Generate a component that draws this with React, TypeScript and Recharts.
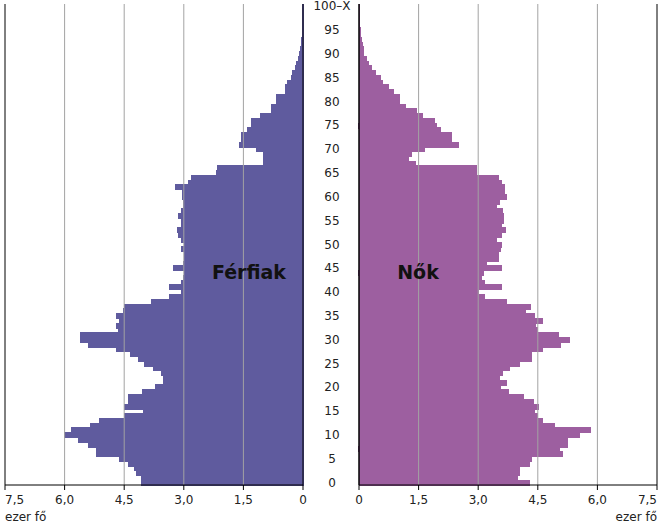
import React from "react";
import { BarChart, Bar, XAxis, YAxis, ReferenceLine } from "recharts";

// korévek (0 ... 99, 100 és felette)
const ageLabels = [...Array.from({ length: 100 }, (_, i) => String(i)), "100–X"];

// férfiak, ezer fő, 0 évestől felfelé
const male = [
  4.06, 4.06, 4.19, 4.23, 4.40, 4.61, 5.19, 5.19, 5.41, 5.66,
  5.99, 5.82, 5.36, 5.11, 4.48, 4.02, 4.50, 4.40, 4.40, 4.03,
  3.72, 3.51, 3.51, 3.56, 3.77, 3.98, 4.15, 4.35, 4.69, 5.40,
  5.61, 5.61, 4.65, 4.69, 4.61, 4.69, 4.51, 4.48, 3.81, 3.35,
  3.05, 3.35, 3.05, 3.02, 2.98, 3.27, 3.02, 2.98, 2.98, 3.05,
  2.98, 3.05, 3.13, 3.16, 3.05, 3.05, 3.13, 3.05, 3.02, 3.02,
  3.03, 3.03, 3.22, 2.89, 2.80, 2.17, 2.14, 1.00, 1.00, 1.00,
  1.17, 1.61, 1.55, 1.55, 1.39, 1.30, 1.30, 1.06, 0.79, 0.79,
  0.66, 0.66, 0.45, 0.43, 0.40, 0.28, 0.26, 0.20, 0.16, 0.12,
  0.09, 0.06, 0.04, 0.03, 0.02, 0.015, 0.01, 0.007, 0.005, 0.003,
  0.005,
];

// nők, ezer fő
const female = [
  4.29, 3.98, 4.05, 4.05, 4.29, 4.35, 5.13, 5.04, 5.26, 5.26,
  5.56, 5.83, 4.93, 4.62, 4.49, 4.41, 4.52, 4.39, 4.13, 3.77,
  3.55, 3.72, 3.53, 3.60, 3.80, 4.05, 4.35, 4.35, 4.63, 5.06,
  5.29, 5.01, 4.49, 4.43, 4.63, 4.41, 4.20, 4.32, 3.72, 3.17,
  3.00, 3.59, 3.17, 3.09, 3.13, 3.59, 3.21, 3.50, 3.50, 3.55,
  3.59, 3.46, 3.59, 3.69, 3.59, 3.64, 3.64, 3.62, 3.46, 3.53,
  3.72, 3.66, 3.66, 3.59, 3.50, 2.96, 2.96, 1.41, 1.24, 1.33,
  1.66, 2.50, 2.33, 2.33, 2.04, 1.96, 1.91, 1.61, 1.45, 1.18,
  1.03, 1.03, 0.88, 0.73, 0.60, 0.53, 0.41, 0.32, 0.24, 0.20,
  0.12, 0.11, 0.10, 0.07, 0.05, 0.03, 0.02, 0.015, 0.01, 0.007,
  0.01,
];

const valueTicks = [0, 1.5, 3, 4.5, 6, 7.5];
const gridValues = [1.5, 3, 4.5, 6];

const data = ageLabels.map((age, i) => ({ age, male: male[i], female: female[i] }));

const FONT = "'DejaVu Sans', Verdana, sans-serif";
const MALE_COLOR = "#5f5b9e";
const FEMALE_COLOR = "#9d5fa0";
const GRID = "#a3a3a3";

const fmt = (v: number) => (v === 0 ? "0" : v.toFixed(1).replace(".", ","));

const renderXTick = (props: any, side: "left" | "right") => {
  const { x, y, payload } = props;
  const v = payload.value;
  const edge = v === 7.5;
  const anchor = edge ? (side === "left" ? "start" : "end") : "middle";
  return (
    <g>
      <text x={x} y={y} dy={12} textAnchor={anchor} fontFamily={FONT} fontSize={12} fill="#222">
        {fmt(v)}
      </text>
      {edge && (
        <text x={x} y={y} dy={29} textAnchor={anchor} fontFamily={FONT} fontSize={12} fill="#222">
          ezer fő
        </text>
      )}
    </g>
  );
};

const renderAgeTick = (props: any) => {
  const { y, payload } = props;
  return (
    <text x={29} y={y} dy={4} textAnchor="middle" fontFamily={FONT} fontSize={12} fill="#222">
      {payload.value}
    </text>
  );
};

const Frame = () => [
  ...gridValues.map((v) => <ReferenceLine key={"g" + v} x={v} stroke={GRID} />),
  <ReferenceLine key="edge0" x={0} stroke="#000" />,
  <ReferenceLine key="edge75" x={7.5} stroke="#000" />,
];

export default function App() {
  return (
    <div style={{ position: "absolute", left: 0, top: 0, width: 662, height: 527, background: "#fff" }}>
      <div style={{ position: "absolute", left: 0, top: 0 }}>
        <BarChart
          width={310}
          height={527}
          layout="vertical"
          data={data}
          margin={{ top: 4, right: 7, bottom: 0, left: 5 }}
          barCategoryGap={0}
        >
          <XAxis
            type="number"
            domain={[0, 7.5]}
            ticks={valueTicks}
            interval={0}
            reversed
            height={42}
            axisLine={{ stroke: "#000" }}
            tickLine={{ stroke: "#000" }}
            tickSize={5}
            tick={(p: any) => renderXTick(p, "left")}
          />
          <XAxis
            xAxisId="top"
            orientation="top"
            type="number"
            domain={[0, 7.5]}
            reversed
            height={0}
            tick={false}
            tickLine={false}
            axisLine={{ stroke: "#808080" }}
          />
          <YAxis type="category" dataKey="age" reversed hide />
          <Bar
            dataKey="male"
            fill={MALE_COLOR}
            stroke={MALE_COLOR}
            strokeWidth={1}
            shapeRendering="crispEdges"
            isAnimationActive={false}
          />
          {Frame()}
        </BarChart>
      </div>
      <div style={{ position: "absolute", left: 303, top: 0 }}>
        <BarChart
          width={359}
          height={527}
          layout="vertical"
          data={data}
          margin={{ top: 4, right: 5, bottom: 0, left: 0 }}
          barCategoryGap={0}
        >
          <XAxis
            type="number"
            domain={[0, 7.5]}
            ticks={valueTicks}
            interval={0}
            height={42}
            axisLine={{ stroke: "#000" }}
            tickLine={{ stroke: "#000" }}
            tickSize={5}
            tick={(p: any) => renderXTick(p, "right")}
          />
          <XAxis
            xAxisId="top"
            orientation="top"
            type="number"
            domain={[0, 7.5]}
            height={0}
            tick={false}
            tickLine={false}
            axisLine={{ stroke: "#808080" }}
          />
          <YAxis
            type="category"
            dataKey="age"
            reversed
            width={56}
            interval={4}
            axisLine={{ stroke: "#000" }}
            tickLine={false}
            tick={renderAgeTick}
          />
          <Bar
            dataKey="female"
            fill={FEMALE_COLOR}
            stroke={FEMALE_COLOR}
            strokeWidth={1}
            shapeRendering="crispEdges"
            isAnimationActive={false}
          />
          {Frame()}
        </BarChart>
      </div>
      <svg
        width={662}
        height={527}
        style={{ position: "absolute", left: 0, top: 0, pointerEvents: "none" }}
      >
        <text x={249} y={279} textAnchor="middle" fontFamily={FONT} fontWeight="bold" fontSize={19} fill="#111">
          Férfiak
        </text>
        <text x={418} y={279} textAnchor="middle" fontFamily={FONT} fontWeight="bold" fontSize={19} fill="#111">
          Nők
        </text>
      </svg>
    </div>
  );
}
